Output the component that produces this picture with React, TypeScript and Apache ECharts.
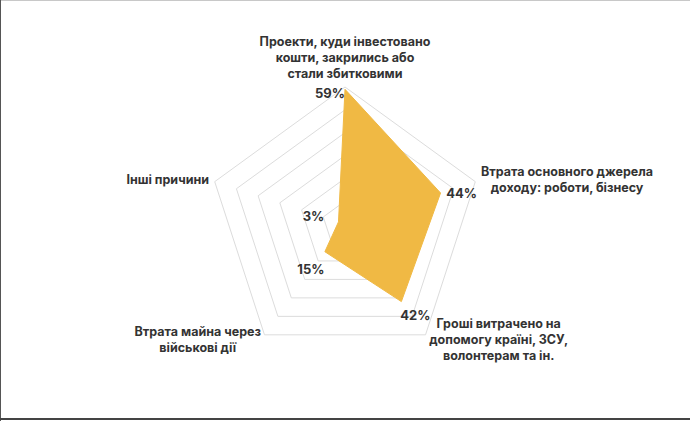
import React, { useEffect, useRef } from "react";
import * as echarts from "echarts";

const categories: string[] = [
  "Проекти, куди інвестовано\nкошти, закрились або\nстали збитковими",
  "Інші причини",
  "Втрата майна через\nвійськові дії",
  "Гроші витрачено на\nдопомогу країні, ЗСУ,\nволонтерам та ін.",
  "Втрата основного джерела\nдоходу: роботи, бізнесу",
];
const values: number[] = [59, 3, 15, 42, 44];
const axisMax = 60;
const labelOffsets: number[][] = [
  [-15, 4],
  [-25, -6],
  [-14, 17],
  [14, 13],
  [21, 0],
];

const FONT = "Inter, 'Open Sans', sans-serif";

export default function App() {
  const ref = useRef<HTMLDivElement>(null);
  useEffect(() => {
    document.body.style.margin = "0";
    if (!ref.current) return;
    const chart = echarts.init(ref.current, undefined, { renderer: "svg" });
    const labelSeries = values.map((v, i) => ({
      type: "radar" as const,
      symbol: "circle",
      symbolSize: 2,
      itemStyle: { color: "transparent" },
      lineStyle: { width: 0, opacity: 0 },
      silent: true,
      z: 5,
      data: [
        {
          value: values,
          label: {
            show: true,
            position: "inside",
            offset: labelOffsets[i],
            color: "#333333",
            fontFamily: FONT,
            fontWeight: 700,
            fontSize: 13,
            formatter: (p: any) => (p.value === v ? p.value + "%" : ""),
          },
        },
      ],
    }));
    chart.setOption({
      animation: false,
      backgroundColor: "#ffffff",
      radar: {
        center: [345, 224],
        radius: 137,
        startAngle: 90,
        splitNumber: 6,
        shape: "polygon",
        nameGap: 6,
        indicator: categories.map((c) => ({ name: c, max: axisMax, min: 0 })),
        axisName: {
          color: "#333333",
          fontFamily: FONT,
          fontWeight: 700,
          fontSize: 12.5,
          lineHeight: 16,
          formatter: (name: string) =>
            name
              .split("\n")
              .map((l) => "{c|" + l + "}")
              .join("\n"),
          rich: {
            c: {
              align: "center",
              color: "#333333",
              fontFamily: FONT,
              fontWeight: 700,
              fontSize: 12.5,
              lineHeight: 16,
            },
          },
        },
        axisLine: { show: false },
        axisTick: { show: false },
        axisLabel: { show: false },
        splitArea: { show: false },
        splitLine: { lineStyle: { color: "#dcdcdc", width: 1 } },
      },
      series: [
        {
          type: "radar",
          symbol: "none",
          lineStyle: { width: 1, color: "#F0B944" },
          areaStyle: { color: "#F0B944", opacity: 1 },
          data: [{ value: values }],
        },
        ...labelSeries,
      ],
    });
    return () => chart.dispose();
  }, []);
  return (
    <div style={{ position: "relative", width: 690, height: 421, overflow: "hidden" }}>
      <div ref={ref} style={{ position: "absolute", left: 0, top: 0, width: 690, height: 421 }} />
      <div style={{ position: "absolute", left: 0, top: 0, width: 690, height: 1, background: "#c8c8c8" }} />
      <div style={{ position: "absolute", left: 0, top: 0, width: 1, height: 421, background: "#555" }} />
      <div style={{ position: "absolute", left: 0, top: 418, width: 690, height: 2, background: "#444" }} />
    </div>
  );
}
